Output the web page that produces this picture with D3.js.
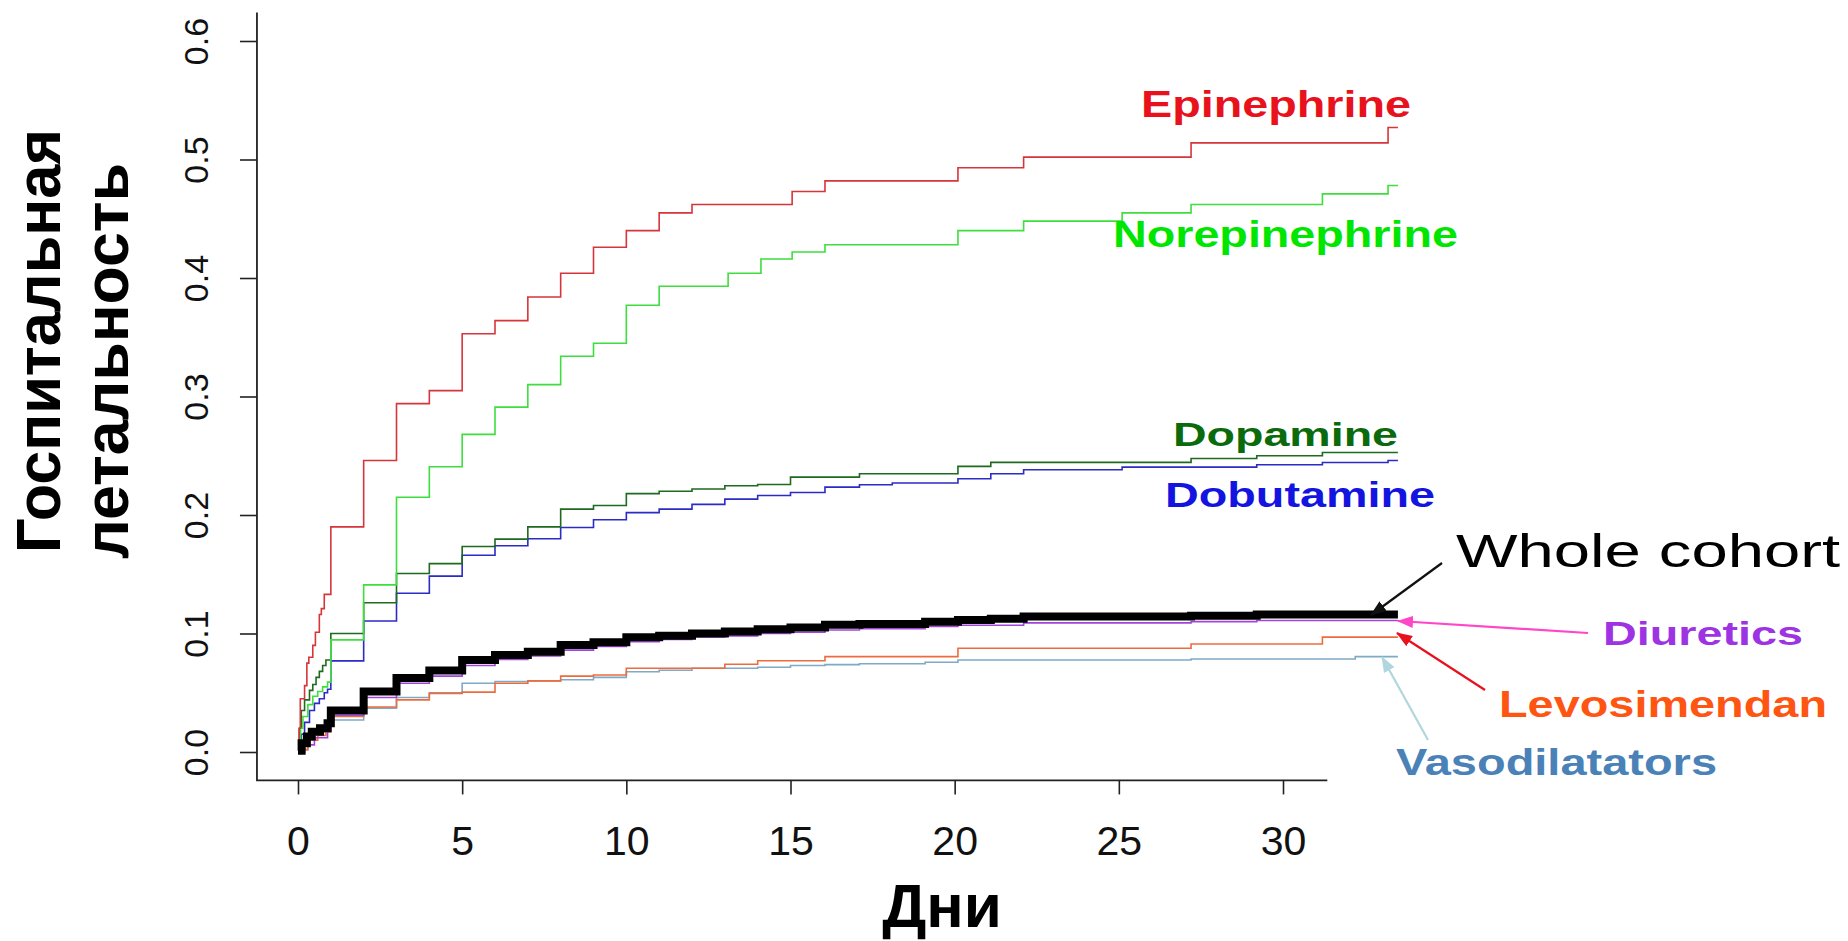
<!DOCTYPE html>
<html>
<head>
<meta charset="utf-8">
<script src="https://cdn.jsdelivr.net/npm/d3@7/dist/d3.min.js"></script>
<style>
  html, body { margin: 0; padding: 0; background: #fff; }
  svg { display: block; }
  text { font-family: "Liberation Sans", Arial, Helvetica, sans-serif; }
</style>
</head>
<body>
<svg id="chart" width="1848" height="941"></svg>
<script>
// Cumulative in-hospital mortality by day, one step curve per treatment group: [day, proportion]
const epinephrine = [[0,0.004],[0.03,0.02],[0.07,0.045],[0.2,0.056],[0.27,0.075],[0.33,0.08],[0.45,0.09],[0.53,0.101],[0.65,0.116],[0.71,0.121],[0.8,0.133],[1,0.19],[2,0.246],[3,0.294],[4,0.305],[5,0.353],[6,0.364],[7,0.384],[8,0.404],[9,0.426],[10,0.44],[11,0.455],[12,0.462],[15.05,0.473],[16.05,0.482],[20.1,0.493],[22.1,0.502],[27.2,0.514],[33.2,0.527],[33.5,0.527]];
const norepinephrine = [[0,0.003],[0.08,0.02],[0.15,0.03],[0.3,0.04],[0.45,0.047],[0.6,0.051],[0.75,0.055],[0.9,0.059],[1,0.0946],[2,0.141],[3,0.215],[4,0.2407],[5,0.268],[6,0.291],[7,0.31],[8,0.334],[9,0.345],[10,0.377],[11,0.393],[13.1,0.404],[14.1,0.416],[15.05,0.422],[16.05,0.428],[20.1,0.44],[22.1,0.448],[25.1,0.455],[27.2,0.462],[31.2,0.471],[33.2,0.478],[33.5,0.478]];
const dopamine = [[0,0.004],[0.05,0.02],[0.1,0.035],[0.2,0.044],[0.35,0.052],[0.45,0.057],[0.55,0.063],[0.65,0.068],[0.75,0.073],[0.85,0.0777],[1,0.1],[2,0.126],[3,0.1506],[4,0.159],[5,0.1734],[6,0.1796],[7,0.19],[8,0.205],[9,0.208],[10,0.218],[11,0.22],[12,0.222],[13,0.2247],[14,0.2258],[15,0.232],[17.1,0.2348],[20.1,0.241],[21.1,0.2444],[27.2,0.2477],[29.2,0.25],[31.2,0.2528],[33.5,0.2528]];
const dobutamine = [[0,0.003],[0.1,0.015],[0.2,0.025],[0.35,0.035],[0.5,0.041],[0.65,0.045],[0.8,0.05],[0.9,0.053],[1,0.0769],[2,0.1106],[3,0.134],[4,0.1484],[5,0.166],[6,0.174],[7,0.18],[8,0.1894],[9,0.196],[10,0.202],[11,0.205],[12,0.209],[13,0.2134],[14,0.2165],[15,0.219],[16.05,0.2235],[17.1,0.2255],[18.1,0.227],[20.1,0.2306],[21.1,0.2348],[22.1,0.2382],[25.1,0.2404],[29.2,0.2424],[31.2,0.2443],[33.2,0.246],[33.5,0.246]];
const wholeCohort = [[0,0.001],[0.11,0.0073],[0.27,0.013],[0.42,0.017],[0.67,0.02],[0.9,0.0243],[1,0.035],[2,0.051],[3,0.0625],[4,0.0687],[5,0.0777],[6,0.0819],[7,0.0847],[8,0.0904],[9,0.0926],[10,0.0968],[11,0.098],[12,0.1],[13,0.1016],[14,0.1036],[15,0.105],[16.05,0.1073],[17.1,0.108],[19.1,0.11],[20.1,0.1114],[21.1,0.1125],[22.1,0.1143],[27.2,0.1149],[29.2,0.116],[33.5,0.116]];
const diuretics = [[0,0],[0.2,0.006],[0.5,0.012],[0.9,0.018],[1,0.031],[2,0.046],[3,0.058],[4,0.064],[5,0.073],[6,0.078],[7,0.081],[8,0.086],[9,0.089],[10,0.093],[11,0.095],[12,0.097],[13,0.098],[14,0.1],[15,0.101],[16.05,0.103],[17.1,0.104],[19.1,0.106],[20.1,0.107],[22.1,0.109],[27.2,0.11],[29.2,0.111],[33.5,0.111]];
const levosimendan = [[0,0.002],[0.3,0.01],[0.6,0.014],[0.85,0.017],[1,0.03],[2,0.038],[3,0.044],[4,0.0495],[5,0.0505],[6,0.058],[7,0.06],[8,0.064],[9,0.065],[10,0.0707],[13,0.074],[14,0.077],[16.05,0.0805],[20.1,0.0875],[27.2,0.0912],[31.2,0.0969],[33.5,0.0969]];
const vasodilatators = [[0,0.002],[0.3,0.012],[0.6,0.017],[0.85,0.02],[1,0.027],[2,0.037],[3,0.046],[4,0.05],[5,0.058],[6,0.0595],[7,0.06],[8,0.061],[9,0.063],[10,0.0677],[11,0.069],[12,0.0707],[14,0.0715],[15,0.073],[16.05,0.0737],[17.1,0.0745],[19.1,0.0757],[20.1,0.0777],[27.2,0.0785],[32.2,0.0805],[33.5,0.0805]];

// Axis ticks
const dayTicks = [0, 5, 10, 15, 20, 25, 30];
const riskTicks = [0, 0.1, 0.2, 0.3, 0.4, 0.5, 0.6];

// Axis titles and group labels
const yTitleLines = ["Госпитальная", "летальность"];
const xTitle = "Дни";
const groupNames = ["Epinephrine", "Norepinephrine", "Dopamine", "Dobutamine", "Whole cohort", "Diuretics", "Levosimendan", "Vasodilatators"];

// ---- drawing ----
const svg = d3.select("#chart");
const x = d3.scaleLinear().domain([0, 30]).range([298, 1283]);
const y = d3.scaleLinear().domain([0, 0.6]).range([752, 41]);

const font = "'Liberation Sans', Arial, Helvetica, sans-serif";

// L-shaped frame (R style, 4% padding on y)
const frameLeft = x(-1.25), frameRight = x(31.35);
const frameTop = y(0.624), frameBottom = y(-0.024);
svg.append("path")
  .attr("d", `M${frameLeft},${frameTop}V${frameBottom}H${frameRight}`)
  .attr("fill", "none").attr("stroke", "#222").attr("stroke-width", 1.8);

// x axis
const xAxis = svg.append("g")
  .attr("transform", `translate(0,${frameBottom})`)
  .call(d3.axisBottom(x).tickValues(dayTicks).tickSize(14).tickFormat(d3.format("d")));
xAxis.select(".domain").remove();
xAxis.selectAll(".tick line").attr("stroke", "#222").attr("stroke-width", 1.6);
xAxis.selectAll(".tick text")
  .attr("y", 75).attr("dy", null)
  .attr("fill", "#111")
  .style("font-family", font).style("font-size", "41px");

// y axis with rotated labels
const yAxis = svg.append("g")
  .attr("transform", `translate(${frameLeft},0)`)
  .call(d3.axisLeft(y).tickValues(riskTicks).tickSize(17).tickFormat(d3.format(".1f")));
yAxis.select(".domain").remove();
yAxis.selectAll(".tick line").attr("stroke", "#222").attr("stroke-width", 1.6);
yAxis.selectAll(".tick text")
  .attr("transform", "rotate(-90)")
  .attr("x", 0).attr("y", -49).attr("dy", null)
  .attr("text-anchor", "middle")
  .attr("fill", "#111")
  .style("font-family", font).style("font-size", "34px");

// axis titles
svg.append("text")
  .attr("x", 942).attr("y", 927)
  .attr("text-anchor", "middle")
  .style("font-family", font).style("font-size", "62px").style("font-weight", "bold")
  .attr("fill", "#000")
  .text(xTitle);

const yTitleSpecs = [
  { baseline: 60, start: 553, len: 424 },
  { baseline: 128, start: 559, len: 396 }
];
yTitleLines.forEach((t, i) => {
  svg.append("text")
    .attr("transform", `translate(${yTitleSpecs[i].baseline},${yTitleSpecs[i].start}) rotate(-90)`)
    .attr("text-anchor", "start")
    .attr("textLength", yTitleSpecs[i].len)
    .attr("lengthAdjust", "spacingAndGlyphs")
    .style("font-family", font).style("font-size", "63px").style("font-weight", "bold")
    .attr("fill", "#000")
    .text(t);
});

// step curves
const line = d3.line().x(d => x(d[0])).y(d => y(d[1])).curve(d3.curveStepAfter);
const curves = [
  { data: vasodilatators, color: "#7eaac6", width: 1.6 },
  { data: levosimendan,   color: "#ec6c3e", width: 1.6 },
  { data: diuretics,      color: "#a244dc", width: 1.6 },
  { data: dobutamine,     color: "#2b2bc6", width: 1.6 },
  { data: dopamine,       color: "#1e6a1e", width: 1.6 },
  { data: norepinephrine, color: "#3ede3e", width: 1.6 },
  { data: epinephrine,    color: "#d6353b", width: 1.6 },
  { data: wholeCohort,    color: "#000000", width: 8 }
];
svg.append("g").selectAll("path")
  .data(curves).join("path")
  .attr("d", d => line(d.data))
  .attr("fill", "none")
  .attr("stroke", d => d.color)
  .attr("stroke-width", d => d.width)
  .attr("stroke-linejoin", "miter");

// group labels
const labelSpecs = [
  { x: 1141, y: 117, size: 36, len: 270, color: "#e8121c", bold: true },
  { x: 1113, y: 247, size: 36, len: 345, color: "#00e600", bold: true },
  { x: 1173, y: 446, size: 34, len: 225, color: "#0b6a0b", bold: true },
  { x: 1165, y: 507, size: 35, len: 270, color: "#1414e0", bold: true },
  { x: 1456, y: 567, size: 46, len: 384, color: "#000000", bold: false },
  { x: 1603, y: 645, size: 33, len: 200, color: "#9d33e3", bold: true },
  { x: 1499, y: 717, size: 36, len: 328, color: "#ff5512", bold: true },
  { x: 1396, y: 775, size: 36, len: 321, color: "#4a82b8", bold: true }
];
svg.append("g").selectAll("text")
  .data(groupNames).join("text")
  .attr("x", (d, i) => labelSpecs[i].x)
  .attr("y", (d, i) => labelSpecs[i].y)
  .attr("textLength", (d, i) => labelSpecs[i].len)
  .attr("lengthAdjust", "spacingAndGlyphs")
  .attr("fill", (d, i) => labelSpecs[i].color)
  .style("font-family", font)
  .style("font-size", (d, i) => labelSpecs[i].size + "px")
  .style("font-weight", (d, i) => labelSpecs[i].bold ? "bold" : "normal")
  .text(d => d);

// pointer arrows from labels to curve ends
const arrows = [
  { from: [1442, 563], to: [1371, 615], color: "#111111" },
  { from: [1588, 633], to: [1398, 621], color: "#ff46c8" },
  { from: [1485, 690], to: [1397, 633], color: "#e8121e" },
  { from: [1428, 740], to: [1382, 657], color: "#b2d6de" }
];
const defs = svg.append("defs");
arrows.forEach((a, i) => {
  defs.append("marker")
    .attr("id", "head" + i)
    .attr("viewBox", "0 0 16 12")
    .attr("refX", 15).attr("refY", 6)
    .attr("markerWidth", 16).attr("markerHeight", 12)
    .attr("markerUnits", "userSpaceOnUse")
    .attr("orient", "auto")
    .append("path").attr("d", "M0,0L16,6L0,12Z").attr("fill", a.color);
});
svg.append("g").selectAll("line")
  .data(arrows).join("line")
  .attr("x1", d => d.from[0]).attr("y1", d => d.from[1])
  .attr("x2", d => d.to[0]).attr("y2", d => d.to[1])
  .attr("stroke", d => d.color).attr("stroke-width", 2.2)
  .attr("marker-end", (d, i) => `url(#head${i})`);
</script>
</body>
</html>
